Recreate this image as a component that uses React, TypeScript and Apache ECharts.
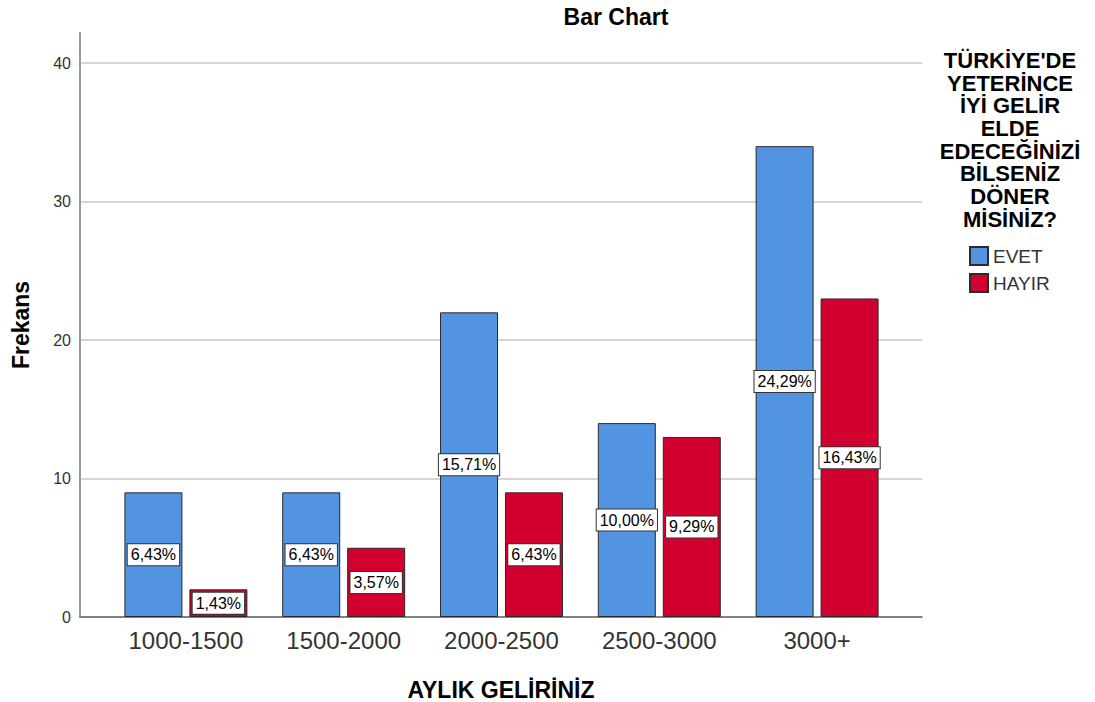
import React, { useEffect, useRef } from "react";
import * as echarts from "echarts";

const categories = ["1000-1500", "1500-2000", "2000-2500", "2500-3000", "3000+"];
const evetValues = [9, 9, 22, 14, 34];
const hayirValues = [2, 5, 9, 13, 23];
const seriesNames = ["EVET", "HAYIR"];
const yTicks = [0, 10, 20, 30, 40];
const legendTitle = "TÜRKİYE'DE\nYETERİNCE\nİYİ GELİR\nELDE\nEDECEĞİNİZİ\nBİLSENİZ\nDÖNER\nMİSİNİZ?";

const total = [...evetValues, ...hayirValues].reduce((a, b) => a + b, 0);
const pct = (v: number) => ((v / total) * 100).toFixed(2).replace(".", ",") + "%";

const FONT = "'Liberation Sans', Arial, sans-serif";
const Y_MAX = 42.17;

export default function App() {
  const ref = useRef<HTMLDivElement>(null);
  useEffect(() => {
    if (!ref.current) return;
    const chart = echarts.init(ref.current, null, { renderer: "svg" });
    const labelCfg = {
      show: true,
      position: "inside",
      formatter: (p: any) => pct(p.value),
      color: "#000",
      fontFamily: FONT,
      fontSize: 16,
      backgroundColor: "#fff",
      borderColor: "#333",
      borderWidth: 1,
      padding: [3, 3, 2, 3],
    };
    chart.setOption({
      animation: false,
      textStyle: { fontFamily: FONT },
      title: {
        text: "Bar Chart",
        left: 611,
        top: 0,
        textAlign: "center",
        textStyle: { fontSize: 23, fontWeight: "bold", color: "#000", fontFamily: FONT },
      },
      legend: {
        data: seriesNames,
        orient: "vertical",
        left: 969,
        top: 246,
        padding: 0,
        itemWidth: 18,
        itemHeight: 18,
        itemGap: 7,
        icon: "rect",
        textStyle: { fontSize: 19, color: "#333", fontFamily: FONT },
      },
      graphic: [
        {
          type: "text",
          x: 1010,
          y: 49,
          style: {
            text: legendTitle,
            align: "center",
            verticalAlign: "top",
            fontSize: 22,
            fontWeight: "bold",
            lineHeight: 22.7,
            fill: "#000",
            fontFamily: FONT,
          },
        } as any,
      ],
      grid: [
        { left: 80, right: 173, top: 33, bottom: 85, outerBoundsMode: "none" },
        { left: 107, right: 199, top: 33, bottom: 85, outerBoundsMode: "none" },
      ],
      xAxis: [
        {
          gridIndex: 0,
          type: "value",
          min: 0,
          max: 1,
          axisLine: { show: true, onZero: false, lineStyle: { color: "#666", width: 1.5 } },
          axisTick: { show: false },
          axisLabel: { show: false },
          splitLine: { show: false },
          name: "AYLIK GELİRİNİZ",
          nameLocation: "middle",
          nameGap: 61,
          nameTextStyle: { fontSize: 23, fontWeight: "bold", color: "#000", fontFamily: FONT },
        },
        {
          gridIndex: 1,
          type: "category",
          data: categories,
          axisLine: { show: false },
          axisTick: { show: false },
          axisLabel: { fontSize: 24, color: "#333", margin: 11, fontFamily: FONT },
        },
      ],
      yAxis: [
        {
          gridIndex: 0,
          type: "value",
          min: 0,
          max: Y_MAX,
          interval: 10,
          axisLine: { show: true, lineStyle: { color: "#999", width: 2 } },
          axisTick: { show: false },
          axisLabel: {
            fontSize: 16,
            color: "#333",
            margin: 9,
            showMaxLabel: false,
            formatter: (v: number) => (yTicks.includes(v) ? String(v) : ""),
          },
          splitLine: { show: true, showMaxLine: false, lineStyle: { color: "#c8c8c8", width: 1.5 } },
          name: "Frekans",
          nameLocation: "middle",
          nameGap: 48,
          nameTextStyle: { fontSize: 23, fontWeight: "bold", color: "#000", fontFamily: FONT },
        },
        {
          gridIndex: 1,
          type: "value",
          min: 0,
          max: Y_MAX,
          show: false,
          splitLine: { show: false },
        },
      ],
      series: [
        {
          name: seriesNames[0],
          type: "bar",
          xAxisIndex: 1,
          yAxisIndex: 1,
          data: evetValues,
          barWidth: 58,
          barGap: "12%",
          itemStyle: { color: "#5294E2", borderColor: "#2a2a2a", borderWidth: 1 },
          label: labelCfg,
        },
        {
          name: seriesNames[1],
          type: "bar",
          xAxisIndex: 1,
          yAxisIndex: 1,
          data: hayirValues,
          barWidth: 58,
          barGap: "12%",
          itemStyle: { color: "#D2002E", borderColor: "#2a2a2a", borderWidth: 1 },
          label: labelCfg,
        },
      ],
    });
    return () => chart.dispose();
  }, []);
  return <div ref={ref} style={{ width: 1095, height: 702, position: "absolute", left: 0, top: 0, background: "#fff" }} />;
}
